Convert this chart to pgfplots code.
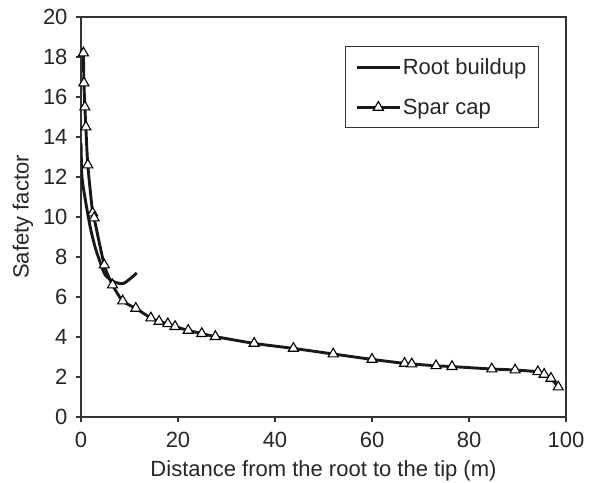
\documentclass[border=0pt]{standalone}
\usepackage{pgfplots}
\pgfplotsset{compat=1.18}
\usepackage{fontspec}
\setmainfont{Liberation Sans}
\begin{document}
\begin{tikzpicture}
\useasboundingbox (-81bp,-66bp) rectangle (509bp,417bp);
\begin{axis}[
  at={(0,0)}, anchor=south west,
  scale only axis, width=485bp, height=400bp,
  xmin=0, xmax=100, ymin=0, ymax=20,
  xtick={0,20,...,100}, ytick={0,2,...,20},
  xtick pos=lower, ytick pos=left,
  tick align=outside, major tick length=5bp,
  tick style={line width=1.2bp, color=black!80},
  axis line style={line width=1.5bp, black!80},
  /pgf/number format/assume math mode=true,
  tick label style={font=\fontsize{22bp}{26bp}\selectfont, text=black!85},
  xticklabel style={yshift=-7bp},
  yticklabel style={xshift=-5bp},
  label style={font=\fontsize{22bp}{26bp}\selectfont, text=black!85},
  xlabel style={yshift=-6bp},
  ylabel style={yshift=3bp},
  xlabel={Distance from the root to the tip (m)},
  ylabel={Safety factor},
  legend style={at={(0.944,0.9275)}, anchor=north east, draw=black!80, line width=1bp,
    font=\fontsize{22bp}{26bp}\selectfont, text=black!85, inner sep=10bp, row sep=19bp},
  legend cell align=left,
  legend image code/.code={\draw[mark repeat=2,mark phase=2,#1,line width=2.9bp] plot coordinates {(0bp,0bp)(21bp,0bp)(42bp,0bp)};},
]
\addplot[line width=2.9bp, black!90, smooth, tension=0.4] coordinates {
(0,13.7)(0.2,12.0)(0.9,10.85)(1.9,9.5)(2.9,8.5)(4.0,7.7)(5.0,7.1)(6.7,6.77)(8.8,6.68)(11.5,7.2)
};
\addlegendentry{Root buildup}
\addplot[line width=2.9bp, black!90, smooth, tension=0.4, mark=triangle*, mark size=5.8bp,
  mark options={fill=white, draw=black, line width=1.1bp, solid}] coordinates {
(0.5,18.2)(0.6,16.7)(0.8,15.5)(1.0,14.5)(1.4,12.6)(2.4,10.2)(2.7,9.95)(4.8,7.6)(6.5,6.6)(8.6,5.8)(11.3,5.43)(14.4,4.95)(16.1,4.78)(17.9,4.66)(19.4,4.52)(22.1,4.33)(24.9,4.17)(27.7,4.02)(35.7,3.68)(43.8,3.43)(52.0,3.15)(60.0,2.88)(66.7,2.68)(68.2,2.65)(73.2,2.56)(76.5,2.52)(84.7,2.4)(89.5,2.35)(94.2,2.26)(95.5,2.13)(96.9,1.93)(98.4,1.5)
};
\addlegendentry{Spar cap}
\end{axis}
\end{tikzpicture}
\end{document}
